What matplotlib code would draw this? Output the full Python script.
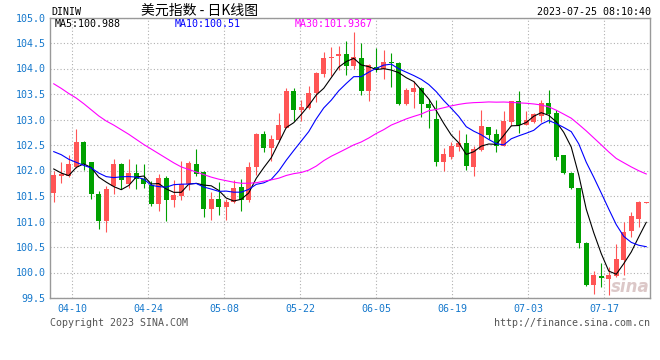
import numpy as np
import pandas as pd
import matplotlib
matplotlib.use("Agg")
import matplotlib.pyplot as plt

plt.rcParams['font.family'] = ['DejaVu Sans Mono']

# daily bars of DINIW, 80 sessions
opens = [101.56, 101.89, 101.90, 102.07, 102.56, 102.16, 101.53, 101.01, 101.69, 102.12,
         101.73, 101.96, 101.84, 101.71, 101.34, 101.86, 101.42, 101.50, 101.73, 102.12,
         101.97, 101.25, 101.45, 101.28, 101.39, 101.68, 101.42, 102.06, 102.71, 102.44,
         102.60, 102.83, 103.55, 103.19, 103.23, 103.51, 103.89, 104.20, 104.24, 104.29,
         104.05, 104.21, 103.56, 104.03, 104.00, 104.13, 104.11, 103.30, 103.54, 103.62,
         103.30, 103.01, 102.16, 102.27, 102.47, 102.53, 102.07, 102.40, 102.85, 102.71,
         102.49, 102.95, 103.36, 102.90, 102.95, 103.06, 103.32, 103.12, 102.30, 101.96,
         101.65, 100.58, 99.75, 99.94, 99.88, 99.94, 100.25, 100.81, 101.05, 101.37]
highs = [102.00, 102.16, 102.31, 102.82, 102.57, 102.17, 101.60, 101.69, 102.23, 102.15,
         102.23, 102.12, 102.12, 101.79, 101.94, 101.90, 101.81, 102.19, 102.19, 102.43,
         101.99, 101.58, 101.78, 101.45, 101.81, 101.83, 102.16, 102.73, 102.77, 102.69,
         103.12, 103.62, 103.62, 103.38, 103.66, 103.93, 104.32, 104.42, 104.44, 104.54,
         104.71, 104.50, 104.09, 104.40, 104.37, 104.31, 104.13, 103.61, 103.75, 103.64,
         103.40, 103.38, 102.44, 102.56, 102.79, 102.71, 102.49, 103.18, 102.85, 102.82,
         103.16, 103.36, 103.55, 103.16, 103.13, 103.39, 103.58, 103.19, 102.30, 101.97,
         101.65, 100.60, 100.03, 100.18, 100.11, 100.55, 100.99, 101.18, 101.41, 101.39]
lows = [101.38, 101.75, 101.88, 102.05, 102.01, 101.44, 100.85, 100.79, 101.54, 101.63,
        101.65, 101.63, 101.65, 101.31, 101.21, 101.01, 101.29, 101.42, 101.62, 101.90,
        101.08, 101.03, 101.12, 101.03, 101.37, 101.21, 101.39, 101.92, 102.36, 102.19,
        102.55, 102.83, 102.97, 102.97, 103.20, 103.34, 103.84, 103.85, 103.98, 103.87,
        103.99, 103.48, 103.36, 103.93, 103.79, 103.64, 103.29, 103.29, 103.23, 103.05,
        102.84, 102.08, 102.00, 102.22, 102.38, 102.01, 101.90, 102.38, 102.61, 102.36,
        102.48, 102.87, 102.74, 102.89, 102.94, 102.95, 102.94, 102.21, 101.93, 101.64,
        100.49, 99.74, 99.57, 99.72, 99.56, 99.92, 99.96, 100.69, 100.89, 101.36]
closes = [101.91, 101.94, 102.12, 102.56, 102.12, 101.54, 101.01, 101.63, 102.12, 101.82,
          101.95, 101.84, 101.73, 101.34, 101.86, 101.42, 101.51, 101.73, 102.14, 101.94,
          101.25, 101.44, 101.28, 101.39, 101.65, 101.42, 102.06, 102.71, 102.44, 102.62,
          102.89, 103.55, 103.19, 103.24, 103.51, 103.91, 104.21, 104.23, 104.28, 104.05,
          104.23, 103.56, 104.06, 104.00, 104.13, 104.10, 103.30, 103.57, 103.62, 103.30,
          103.22, 102.16, 102.32, 102.48, 102.53, 102.09, 102.42, 102.87, 102.69, 102.49,
          102.97, 103.36, 102.90, 102.99, 103.10, 103.32, 103.10, 102.27, 101.95, 101.66,
          100.58, 99.75, 99.96, 99.90, 99.95, 100.27, 100.79, 101.10, 101.38, 101.38]

# moving averages before enough bars are on screen
ma5_head = [102.03, 101.95, 101.90, 102.06]
ma10_head = [102.37, 102.31, 102.22, 102.16, 102.10, 102.05, 101.95, 101.88, 101.86]
ma30_head = [103.70, 103.61, 103.51, 103.42, 103.31, 103.19, 103.07, 102.97, 102.89, 102.80,
             102.71, 102.61, 102.51, 102.42, 102.33, 102.24, 102.15, 102.07, 102.02, 101.97,
             101.92, 101.87, 101.83, 101.80, 101.77, 101.75, 101.75, 101.76, 101.79]

date_labels = ["04-10", "04-24", "05-08", "05-22", "06-05", "06-19", "07-03", "07-17"]
ma_labels = ["MA5:100.988", "MA10:100.51", "MA30:101.9367"]

title = "美元指数 - 日K线图"
symbol = "DINIW"
stamp = "2023-07-25 08:10:40"

# --- moving averages
s = pd.Series(closes)
ma5 = np.r_[ma5_head, s.rolling(5).mean().dropna().values]
ma10 = np.r_[ma10_head, s.rolling(10).mean().dropna().values]
ma30 = np.r_[ma30_head, s.rolling(30).mean().dropna().values]

o = np.array(opens)
c = np.array(closes)
x = np.arange(len(c))
up = c >= o
red, green = "#ff5555", "#00a000"
cols = np.where(up, red, green)

W, H = 660, 360
fig = plt.figure(figsize=(W / 100, H / 100), dpi=100)
ax = fig.add_axes([50 / W, 62 / H, 600 / W, 280.5 / H])

# candles
ax.vlines(x, lows, highs, colors=cols, linewidth=0.8, zorder=3)
body_low = np.minimum(o, c)
body_h = np.maximum(np.abs(c - o), 0.018)
ax.bar(x, body_h, bottom=body_low, width=0.72, color=cols, linewidth=0, zorder=4)

# MA lines
ax.plot(x, ma5, color="black", lw=0.8, zorder=5)
ax.plot(x, ma10, color="#0000ff", lw=0.8, zorder=5)
ax.plot(x, ma30, color="#ff00ff", lw=0.8, zorder=5)

ax.set_xlim(-0.5, len(c) - 0.5)
ax.set_ylim(99.5, 105.0)
ax.set_yticks(np.arange(99.5, 105.01, 0.5))
ax.yaxis.set_major_formatter(plt.FormatStrFormatter("%.1f"))

# sina spaces the date grid a little wider than the bars (76px per 10 bars)
tick_x = 2.43 + np.arange(len(date_labels)) * 76 / 7.5
ax.set_xticks(tick_x)
ax.set_xticklabels(date_labels)

blue_txt = "#1578cc"
ax.tick_params(axis="both", length=0, labelcolor=blue_txt, labelsize=7.2)
ax.tick_params(axis="y", pad=3)
ax.tick_params(axis="x", pad=4.5)
ax.grid(True, color="#b0b0b0", linestyle=(0, (1, 2)), linewidth=0.8, zorder=0)
ax.set_axisbelow(True)
for sp in ax.spines.values():
    sp.set_color("#999999")
    sp.set_linewidth(1.0)

def px(xp, yp):
    return xp / W, 1 - yp / H

# header
fig.text(*px(51, 12), symbol, fontsize=7.2, color="black", va="center", ha="left")
fig.text(*px(141, 10.5), title, fontsize=10, color="black", va="center", ha="left",
         family=["Noto Sans CJK SC", "DejaVu Sans"])
fig.text(*px(651, 12), stamp, fontsize=7.2, color="black", va="center", ha="right")

# MA legend inside the box
for lbl, xp, col in zip(ma_labels, [55, 175, 295], ["black", "#0000ff", "#ff00ff"]):
    fig.text(*px(xp, 24), lbl, fontsize=7.2, color=col, va="center", ha="left")

# footer
fig.text(*px(50, 323), "Copyright 2023 SINA.COM", fontsize=7.2, color="#555555",
         va="center", ha="left")
fig.text(*px(650, 323), "http://finance.sina.com.cn", fontsize=7.2, color="#555555",
         va="center", ha="right")

# watermark
fig.text(*px(630, 287), "sina", fontsize=12, color="#dcc8c8", style="italic",
         weight="bold", va="center", ha="center", family=["DejaVu Sans"], zorder=1)

fig.savefig("out.png", dpi=100)
